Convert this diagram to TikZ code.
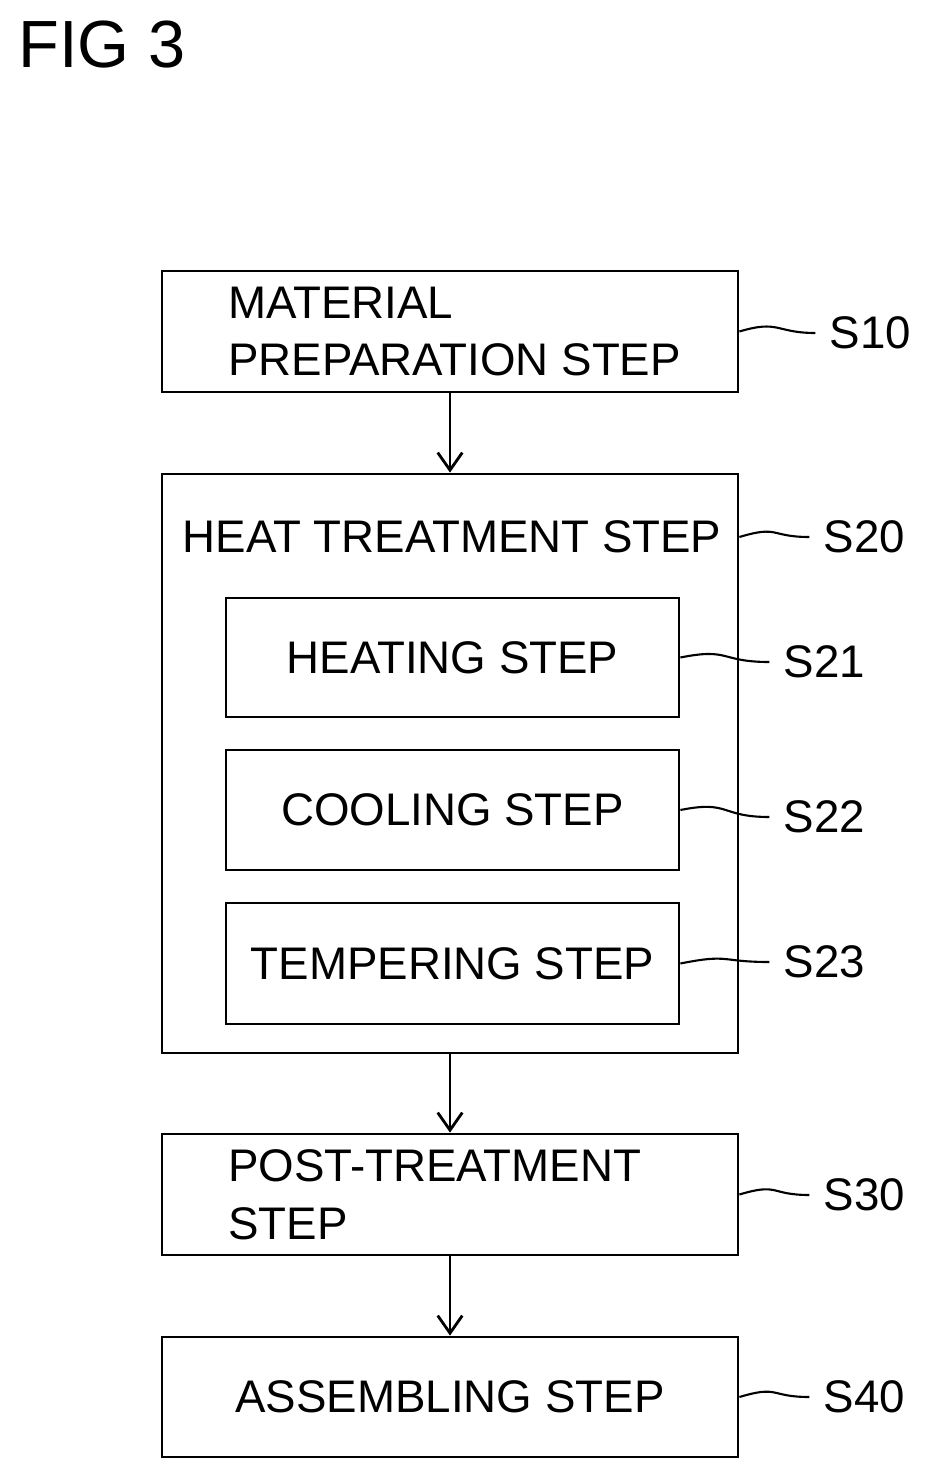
\documentclass[tikz,border=0pt]{standalone}
\usepackage{fontspec}
\setmainfont{Liberation Sans}
\usetikzlibrary{arrows.meta}
\begin{document}
\begin{tikzpicture}[x=0.02cm,y=-0.02cm,
	stepbox/.style={draw, line width=1.6pt, inner sep=0pt},
	steptext/.style={font=\fontsize{26}{33}\selectfont, align=left},
	steplabel/.style={font=\fontsize{26}{33}\selectfont, anchor=west, inner sep=2pt},
	leader/.style={line width=1.2pt},
	flow/.style={->, line width=1.6pt, >={Straight Barb[length=10pt,width=14pt]}}]
	
	\useasboundingbox (0,0) rectangle (926,1480);
	
	\node [font=\fontsize{38}{44}\selectfont, anchor=west, inner sep=0pt] (fig) at (18,45) {FIG 3};
	
	% outer boxes
	\node [stepbox, minimum width=576*0.02cm, minimum height=121*0.02cm] (s10) at (450,331.5) {};
	\node [steptext, anchor=west] (t10) at (222,331.5) {MATERIAL\\PREPARATION STEP};
	\node [stepbox, minimum width=576*0.02cm, minimum height=579*0.02cm] (s20) at (450,763.5) {};
	\node [steptext] (t20) at (452,537) {HEAT TREATMENT STEP};
	\node [stepbox, minimum width=576*0.02cm, minimum height=121*0.02cm] (s30) at (450,1194.5) {};
	\node [steptext, anchor=west] (t30) at (222,1194.5) {POST-TREATMENT\\STEP};
	\node [stepbox, steptext, minimum width=576*0.02cm, minimum height=120*0.02cm] (s40) at (450,1397) {ASSEMBLING STEP};
	
	% inner boxes
	\node [stepbox, steptext, minimum width=453*0.02cm, minimum height=119*0.02cm] (s21) at (452.5,657.5) {HEATING STEP};
	\node [stepbox, steptext, minimum width=453*0.02cm, minimum height=120*0.02cm] (s22) at (452.5,810) {COOLING STEP};
	\node [stepbox, steptext, minimum width=453*0.02cm, minimum height=121*0.02cm] (s23) at (452.5,963.5) {TEMPERING STEP};
	
	% labels
	\node [steplabel] (l10) at (826,333) {S10};
	\node [steplabel] (l20) at (820,537) {S20};
	\node [steplabel] (l21) at (780,662) {S21};
	\node [steplabel] (l22) at (780,817) {S22};
	\node [steplabel] (l23) at (780,962) {S23};
	\node [steplabel] (l30) at (820,1195) {S30};
	\node [steplabel] (l40) at (820,1397) {S40};
	
	% leaders
	\draw [leader] (s10.east) .. controls +(40,-12) and +(-40,0) .. ([xshift=-6pt]l10.west);
	\draw [leader] (s20.east |- t20) .. controls +(40,-12) and +(-40,0) .. ([xshift=-6pt]l20.west);
	\draw [leader] (s21.east) .. controls +(50,-10) and +(-50,0) .. ([xshift=-6pt]l21.west);
	\draw [leader] (s22.east) .. controls +(50,-10) and +(-50,0) .. ([xshift=-6pt]l22.west);
	\draw [leader] (s23.east) .. controls +(50,-10) and +(-50,0) .. ([xshift=-6pt]l23.west);
	\draw [leader] (s30.east) .. controls +(40,-12) and +(-40,0) .. ([xshift=-6pt]l30.west);
	\draw [leader] (s40.east) .. controls +(40,-12) and +(-40,0) .. ([xshift=-6pt]l40.west);
	
	% flow
	\draw [flow] (s10.south) -- (s20.north);
	\draw [flow] (s20.south) -- (s30.north);
	\draw [flow] (s30.south) -- (s40.north);
	
\end{tikzpicture}
\end{document}
